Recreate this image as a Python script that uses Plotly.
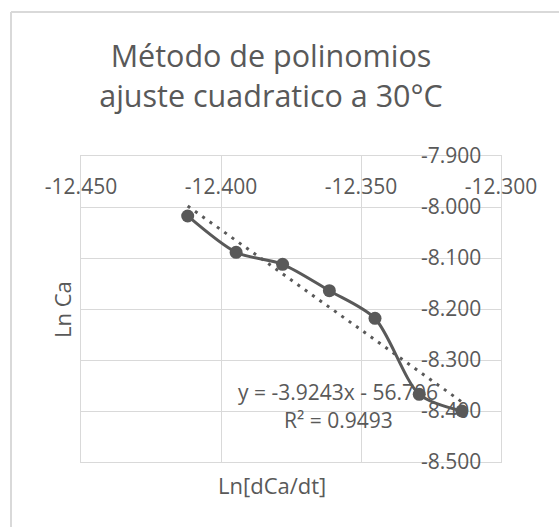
import plotly.graph_objects as go

# Measured data: Ln[dCa/dt] vs Ln Ca at 30 °C
ln_rate = [-12.4119, -12.3946, -12.3780, -12.3613, -12.3450, -12.3292, -12.3140]
ln_ca = [-8.0176, -8.0889, -8.1124, -8.1641, -8.2183, -8.3674, -8.4000]

# Linear fit reported on the chart
slope = -3.9243
intercept = -56.706
r_squared = 0.9493

x_ticks = [-12.45, -12.40, -12.35, -12.30]
y_ticks = [-7.9, -8.0, -8.1, -8.2, -8.3, -8.4, -8.5]

GREY = "#595959"
GRID = "#d9d9d9"
FONT = "Open Sans"
TICK_SIZE = 21
LABEL_SIZE = 22

fit_x = [min(ln_rate), max(ln_rate)]
fit_y = [slope * v + intercept for v in fit_x]

fig = go.Figure()
fig.add_trace(go.Scatter(
    x=ln_rate, y=ln_ca, mode="lines+markers",
    line=dict(color=GREY, width=3, shape="spline", smoothing=0.8),
    marker=dict(color=GREY, size=13),
    showlegend=False,
))
fig.add_trace(go.Scatter(
    x=fit_x, y=fit_y, mode="lines",
    line=dict(color=GREY, width=3, dash="3px,6px"),
    showlegend=False,
))

fig.update_layout(
    width=559, height=527,
    margin=dict(l=81, r=58, t=156, b=65),
    paper_bgcolor="white", plot_bgcolor="white",
    font=dict(family=FONT, color=GREY, size=TICK_SIZE),
    title=dict(
        text="Método de polinomios<br>ajuste cuadratico a 30°C",
        x=271 / 559, xanchor="center",
        y=1 - 67 / 527, yanchor="middle",
        font=dict(family=FONT, size=30.5, color=GREY),
    ),
    xaxis=dict(
        range=[-12.45, -12.30], side="top",
        tickvals=x_ticks, ticktext=[f"{v:.3f}" for v in x_ticks],
        ticklabelposition="inside", ticklabeloverflow="allow",
        ticklabelstandoff=25, ticks="",
        showgrid=True, gridcolor=GRID, gridwidth=1,
        showline=True, linecolor=GRID, linewidth=1, mirror=True,
        zeroline=False, tickfont=dict(size=TICK_SIZE, color=GREY),
    ),
    yaxis=dict(
        range=[-8.5, -7.9], side="right",
        tickvals=y_ticks, ticktext=[f"{v:.3f}" for v in y_ticks],
        ticklabelposition="inside", ticklabeloverflow="allow",
        ticklabelstandoff=21, ticks="",
        showgrid=True, gridcolor=GRID, gridwidth=1,
        showline=True, linecolor=GRID, linewidth=1, mirror=True,
        zeroline=False, tickfont=dict(size=TICK_SIZE, color=GREY),
    ),
    annotations=[
        dict(text="Ln Ca", xref="paper", yref="paper",
             x=(62 - 81) / 420, y=1 - (310 - 156) / 306, textangle=-90,
             showarrow=False, xanchor="center", yanchor="middle",
             font=dict(size=LABEL_SIZE, color=GREY)),
        dict(text="Ln[dCa/dt]", xref="paper", yref="paper",
             x=(272 - 81) / 420, y=1 - (485 - 156) / 306,
             showarrow=False, xanchor="center", yanchor="middle",
             font=dict(size=LABEL_SIZE, color=GREY)),
        dict(text=f"y = {slope}x - {abs(intercept)}", xref="paper", yref="paper",
             x=(338 - 81) / 420, y=1 - (392 - 156) / 306,
             showarrow=False, xanchor="center", yanchor="middle",
             font=dict(size=TICK_SIZE, color=GREY)),
        dict(text=f"R² = {r_squared}", xref="paper", yref="paper",
             x=(338 - 81) / 420, y=1 - (420 - 156) / 306,
             showarrow=False, xanchor="center", yanchor="middle",
             font=dict(size=TICK_SIZE, color=GREY)),
    ],
    shapes=[
        # outer chart frame (left and top edges)
        dict(type="line", xref="paper", yref="paper",
             x0=(11 - 81) / 420, x1=(11 - 81) / 420,
             y0=1 + (156 - 12) / 306, y1=1 - (527 - 156) / 306,
             line=dict(color=GRID, width=2)),
        dict(type="line", xref="paper", yref="paper",
             x0=(11 - 81) / 420, x1=(559 - 81) / 420,
             y0=1 + (156 - 12) / 306, y1=1 + (156 - 12) / 306,
             line=dict(color=GRID, width=2)),
    ],
)

fig.write_html("out.html")
